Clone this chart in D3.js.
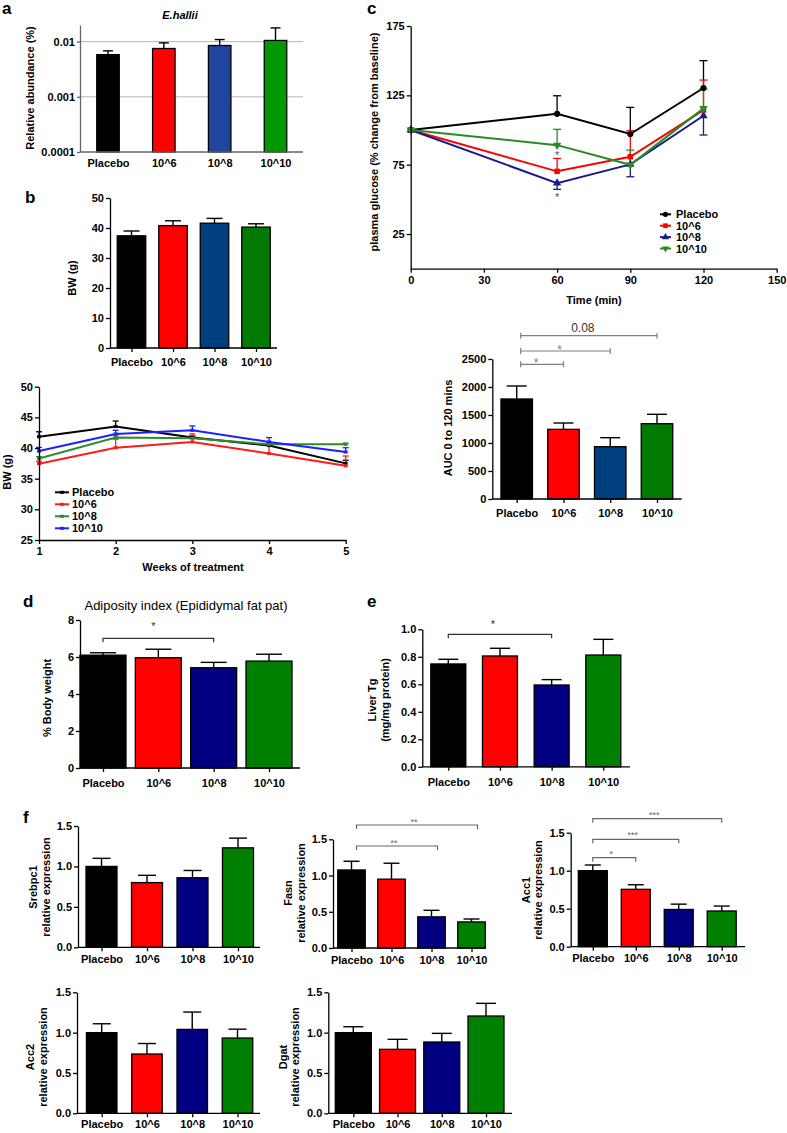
<!DOCTYPE html>
<html><head><meta charset="utf-8">
<script src="https://cdn.jsdelivr.net/npm/d3@7"></script>
<style>
body{margin:0;background:#fff}
svg{display:block;font-family:"Liberation Sans",Arial,Helvetica,sans-serif}
</style></head><body>
<svg id="fig" width="787" height="1133"></svg>
<script>
// ---------------- DATA ----------------
const categories = ["Placebo", "10^6", "10^8", "10^10"];

// a: E.hallii relative abundance (%)
const abundanceMean = [0.0058, 0.0075, 0.0085, 0.0105];
const abundanceSem  = [0.0010, 0.0020, 0.0024, 0.0072];
const abundanceTicks = [0.0001, 0.001, 0.01];

// b: body weight bars
const bwMean = [37.4, 40.8, 41.6, 40.3];
const bwSem  = [1.6, 1.6, 1.6, 1.1];
const bwTicks = [0, 10, 20, 30, 40, 50];

// b: body weight over weeks
const weeks = [1, 2, 3, 4, 5];
const weekSeriesNames = ["Placebo", "10^6", "10^8", "10^10"];
const bwWeekPlacebo = [41.85, 43.5, 41.7, 40.4, 37.5];
const bwWeek10e6    = [37.45, 40.05, 41.0, 39.1, 37.1];
const bwWeek10e8    = [38.3, 41.7, 41.6, 40.6, 40.6];
const bwWeek10e10   = [39.5, 42.3, 42.9, 41.0, 39.35];
const bwWeekSemPlacebo = [0.8, 0.9, 0.3, 0.5, 0.5];
const bwWeekSem10e6    = [0.4, 1.4, 1.3, 1.4, 1.6];
const bwWeekSem10e8    = [0.3, 0.4, 0.4, 0.3, 0.2];
const bwWeekSem10e10   = [0.6, 0.6, 0.7, 0.7, 0.7];
const bwWeekYTicks = [25, 30, 35, 40, 45, 50];

// c: glucose tolerance (% change from baseline)
const timeMin = [0, 60, 90, 120];
const gluPlacebo = [100, 111.7, 97.1, 130.3];
const glu10e6    = [100, 70.2, 80.7, 114.4];
const glu10e8    = [100, 61.7, 75.2, 110.3];
const glu10e10   = [100, 89.1, 74.9, 115.6];
const gluSemPlacebo = [0, 13.0, 19.2, 19.7];
const gluSem10e6    = [0, 9.3, 18.8, 21.6];
const gluSem10e8    = [0, 4.5, 8.9, 13.9];
const gluSem10e10   = [0, 11.4, 10.6, 14.0];
const gluErrDirection = [1, 1, -1, 1];
const gluYTicks = [25, 75, 125, 175];
const gluXTicks = [0, 30, 60, 90, 120, 150];
const gluStarLabels = ["*", "*"];

// c: AUC
const aucMean = [1786, 1244, 934, 1345];
const aucSem  = [232, 113, 161, 167];
const aucTicks = [0, 500, 1000, 1500, 2000, 2500];
const aucBrackets = [[0, 1, "*"], [0, 2, "*"], [0, 3, "0.08"]];

// d: adiposity index
const adipMean = [6.10, 5.96, 5.42, 5.78];
const adipSem  = [0.13, 0.46, 0.29, 0.37];
const adipTicks = [0, 2, 4, 6, 8];
const adipBrackets = [[0, 2, "*"]];

// e: liver Tg
const liverMean = [0.748, 0.806, 0.595, 0.813];
const liverSem  = [0.034, 0.056, 0.039, 0.114];
const liverTicks = [0, 0.2, 0.4, 0.6, 0.8, 1.0];
const liverBrackets = [[0, 2, "*"]];

// f: gene expression
const exprTicks = [0, 0.5, 1.0, 1.5];
const srebpMean = [1.00, 0.80, 0.86, 1.23];
const srebpSem  = [0.10, 0.09, 0.09, 0.12];
const fasnMean  = [1.077, 0.95, 0.43, 0.36];
const fasnSem   = [0.12, 0.22, 0.09, 0.04];
const fasnBrackets = [[0, 3, "**"], [0, 2, "**"]];
const acc1Mean  = [1.00, 0.755, 0.49, 0.47];
const acc1Sem   = [0.075, 0.06, 0.07, 0.065];
const acc1Brackets = [[0, 3, "***"], [0, 2, "***"], [0, 1, "*"]];
const acc2Mean  = [1.00, 0.735, 1.04, 0.933];
const acc2Sem   = [0.11, 0.13, 0.215, 0.11];
const dgatMean  = [1.00, 0.793, 0.884, 1.206];
const dgatSem   = [0.073, 0.124, 0.107, 0.157];

// ---------------- STYLE ----------------
const FONT = '"Liberation Sans", Arial, Helvetica, sans-serif';
const colA = ["#000000", "#ff0000", "#1f459c", "#009a00"];
const colB = ["#000000", "#ff0000", "#003f7f", "#007a00"];
const colD = ["#000000", "#ff0000", "#000080", "#008000"];
const colWeek = ["#000000", "#ff1a1a", "#2e8b2e", "#1f1fff"];
const colGlu = ["#000000", "#ff0000", "#1a1a8c", "#2a8a2a"];

const svg = d3.select("#fig");

function styleAxis(g, color = "#000", size = 11) {
  g.selectAll("text").attr("font-size", size).attr("font-weight", "bold")
    .attr("fill", "#000").attr("font-family", FONT);
  g.selectAll("line,path").attr("stroke", color).attr("stroke-width", 1.3);
}

function txt(x, y, s, opt = {}) {
  return svg.append("text").attr("x", x).attr("y", y).text(s)
    .attr("font-family", FONT)
    .attr("font-size", opt.size || 11)
    .attr("font-weight", opt.weight || "bold")
    .attr("font-style", opt.style || "normal")
    .attr("fill", opt.fill || "#000")
    .attr("text-anchor", opt.anchor || "start");
}

function yTitle(x, cy, s, size = 11) {
  svg.append("text").attr("transform", `translate(${x},${cy}) rotate(-90)`)
    .attr("text-anchor", "middle").attr("dominant-baseline", "central")
    .attr("font-family", FONT).attr("font-size", size).attr("font-weight", "bold")
    .text(s);
}

function barPanel(o) {
  const x = d3.scalePoint().domain(categories).range(o.centers);
  const y = (o.log ? d3.scaleLog() : d3.scaleLinear()).domain(o.domain).range([o.yBottom, o.yTop]);
  const g = svg.append("g");
  const axisColor = o.axisColor || "#000";
  if (o.grid) {
    o.grid.forEach(v => g.append("line").attr("x1", o.xAxis[0]).attr("x2", o.xAxis[1])
      .attr("y1", y(v)).attr("y2", y(v)).attr("stroke", "#b5b5b5").attr("stroke-width", 1));
  }
  const base = o.domain[0];
  o.values.forEach((v, i) => {
    const cx = x(categories[i]);
    const top = y(v + o.sems[i]);
    g.append("line").attr("x1", cx).attr("x2", cx).attr("y1", y(v)).attr("y2", top)
      .attr("stroke", "#000").attr("stroke-width", 1.4);
    g.append("line").attr("x1", cx - o.cap).attr("x2", cx + o.cap).attr("y1", top).attr("y2", top)
      .attr("stroke", "#000").attr("stroke-width", 1.4);
  });
  g.selectAll(null).data(o.values).join("rect")
    .attr("x", (d, i) => x(categories[i]) - o.bw / 2).attr("width", o.bw)
    .attr("y", d => y(d)).attr("height", d => y(base) - y(d))
    .attr("fill", (d, i) => o.colors[i]).attr("stroke", "#000").attr("stroke-width", 1.3);
  const ya = d3.axisLeft(y).tickValues(o.ticks).tickFormat(o.fmt || (d => d))
    .tickSize(o.yTick === undefined ? 4 : o.yTick).tickPadding(o.yPad || 2).tickSizeOuter(0);
  const yg = g.append("g").attr("transform", `translate(${o.xAxis[0]},0)`).call(ya);
  styleAxis(yg, axisColor);
  g.append("line").attr("x1", o.xAxis[0]).attr("x2", o.xAxis[1])
    .attr("y1", o.yBottom).attr("y2", o.yBottom).attr("stroke", axisColor).attr("stroke-width", 1.3);
  const xa = d3.axisBottom(x).tickSize(o.xTick === undefined ? 4 : o.xTick).tickPadding(o.xPad || 3).tickSizeOuter(0);
  const xg = g.append("g").attr("transform", `translate(0,${o.yBottom})`).call(xa);
  xg.select(".domain").remove();
  styleAxis(xg, axisColor);
  (o.yLabel || []).forEach(l => yTitle(l.x, o.yLabelCY, l.t));
  (o.brackets || []).forEach((b, k) => {
    const lv = o.bracketLevels[k];
    const x1 = x(categories[b[0]]) + (o.bracketDx ? o.bracketDx[0] : 0);
    const x2 = x(categories[b[1]]) + (o.bracketDx ? o.bracketDx[1] : 0);
    const col = o.bracketColor || "#444";
    if (o.bracketStyle === "H") {
      g.append("line").attr("x1", x1).attr("x2", x2).attr("y1", lv).attr("y2", lv).attr("stroke", col).attr("stroke-width", 1.2);
      [x1, x2].forEach(xx => g.append("line").attr("x1", xx).attr("x2", xx).attr("y1", lv - 3).attr("y2", lv + 3).attr("stroke", col).attr("stroke-width", 1.2));
    } else {
      g.append("path").attr("d", `M${x1},${lv + 4}V${lv}H${x2}V${lv + 4}`)
        .attr("fill", "none").attr("stroke", col).attr("stroke-width", 1.2);
    }
    const isNum = /[0-9]/.test(b[2]);
    txt((x1 + x2) / 2 + (o.starDx || 0), lv + (isNum ? -4 : o.starDy), b[2],
      { anchor: "middle", weight: "normal", size: isNum ? 12 : o.starSize, fill: isNum ? "#333" : col });
  });
  return { x, y };
}

// ---------------- PANEL LETTERS ----------------
[["a", 2, 14], ["c", 367, 14], ["b", 25, 203], ["d", 23, 607], ["e", 367, 607], ["f", 23, 823]]
  .forEach(p => txt(p[1], p[2], p[0], { size: 17 }));

// ---------------- a ----------------
txt(180, 19, "E.hallii", { anchor: "middle", style: "italic" });
barPanel({
  log: true, domain: [0.0001, 0.02], yBottom: 152, yTop: 25,
  xAxis: [80, 303], centers: [108, 275.5], bw: 22.5, cap: 5,
  values: abundanceMean, sems: abundanceSem, colors: colA,
  ticks: abundanceTicks, fmt: d => String(d), grid: [0.01, 0.001],
  axisColor: "#666", xTick: 0, xPad: 7, yTick: 3,
  yLabel: [{ x: 30, t: "Relative abundance (%)" }], yLabelCY: 88
});

// ---------------- b (bars) ----------------
barPanel({
  domain: [0, 50], yBottom: 348, yTop: 198,
  xAxis: [110, 277], centers: [131.5, 256], bw: 28.5, cap: 8,
  values: bwMean, sems: bwSem, colors: colB,
  ticks: bwTicks, xPad: 6,
  yLabel: [{ x: 72, t: "BW (g)" }], yLabelCY: 278
});

// ---------------- b (lines) ----------------
(function () {
  const x = d3.scaleLinear().domain([1, 5]).range([39, 345.7]);
  const y = d3.scaleLinear().domain([25, 50]).range([540, 386.7]);
  const series = [bwWeekPlacebo, bwWeek10e6, bwWeek10e8, bwWeek10e10];
  const sems = [bwWeekSemPlacebo, bwWeekSem10e6, bwWeekSem10e8, bwWeekSem10e10];
  const g = svg.append("g");
  const line = d3.line().x((d, i) => x(weeks[i])).y(d => y(d));
  series.forEach((s, k) => {
    s.forEach((v, i) => {
      const cx = x(weeks[i]), t = y(v + sems[k][i]);
      g.append("line").attr("x1", cx).attr("x2", cx).attr("y1", y(v)).attr("y2", t).attr("stroke", colWeek[k]).attr("stroke-width", 1.3);
      g.append("line").attr("x1", cx - 3).attr("x2", cx + 3).attr("y1", t).attr("y2", t).attr("stroke", colWeek[k]).attr("stroke-width", 1.3);
    });
  });
  series.forEach((s, k) => {
    g.append("path").datum(s).attr("d", line).attr("fill", "none").attr("stroke", colWeek[k]).attr("stroke-width", 2);
    g.selectAll(null).data(s).join("rect").attr("x", (d, i) => x(weeks[i]) - 2).attr("y", d => y(d) - 1.5)
      .attr("width", 4).attr("height", 3).attr("fill", colWeek[k]);
  });
  const ya = d3.axisLeft(y).tickValues(bwWeekYTicks).tickSize(4).tickPadding(2).tickSizeOuter(0);
  styleAxis(g.append("g").attr("transform", "translate(39,0)").call(ya));
  const xa = d3.axisBottom(x).tickValues(weeks).tickFormat(d3.format("d")).tickSize(4).tickPadding(3).tickSizeOuter(0);
  styleAxis(g.append("g").attr("transform", "translate(0,540)").call(xa));
  yTitle(7, 472, "BW (g)");
  txt(193, 571, "Weeks of treatment", { anchor: "middle" });
  weekSeriesNames.forEach((n, k) => {
    const ly = 492.3 + k * 12;
    g.append("line").attr("x1", 55).attr("x2", 69).attr("y1", ly).attr("y2", ly).attr("stroke", colWeek[k]).attr("stroke-width", 2);
    g.append("rect").attr("x", 60).attr("y", ly - 1.5).attr("width", 4).attr("height", 3).attr("fill", colWeek[k]);
    txt(72, ly + 4, n);
  });
})();

// ---------------- c (lines) ----------------
(function () {
  const x = d3.scaleLinear().domain([0, 150]).range([410.7, 776.7]);
  const y = d3.scaleLinear().domain([0, 175]).range([268.7, 26]);
  const series = [gluPlacebo, glu10e6, glu10e8, glu10e10];
  const sems = [gluSemPlacebo, gluSem10e6, gluSem10e8, gluSem10e10];
  const shapes = [d3.symbolCircle, d3.symbolSquare, d3.symbolTriangle, d3.symbolTriangle];
  const rot = [0, 0, 0, 180];
  const g = svg.append("g");
  const line = d3.line().x((d, i) => x(timeMin[i])).y(d => y(d));
  series.forEach((s, k) => {
    s.forEach((v, i) => {
      if (!sems[k][i]) return;
      const cx = x(timeMin[i]), t = y(v + gluErrDirection[k] * sems[k][i]);
      g.append("line").attr("x1", cx).attr("x2", cx).attr("y1", y(v)).attr("y2", t).attr("stroke", colGlu[k]).attr("stroke-width", 1.3);
      g.append("line").attr("x1", cx - 4).attr("x2", cx + 4).attr("y1", t).attr("y2", t).attr("stroke", colGlu[k]).attr("stroke-width", 1.3);
    });
  });
  series.forEach((s, k) => {
    g.append("path").datum(s).attr("d", line).attr("fill", "none").attr("stroke", colGlu[k]).attr("stroke-width", 2);
    g.selectAll(null).data(s).join("path")
      .attr("transform", (d, i) => `translate(${x(timeMin[i])},${y(d)}) rotate(${rot[k]})`)
      .attr("d", d3.symbol().type(shapes[k]).size(30)).attr("fill", colGlu[k]);
  });
  const ya = d3.axisLeft(y).tickValues(gluYTicks).tickSize(4).tickPadding(2).tickSizeOuter(0);
  styleAxis(g.append("g").attr("transform", "translate(410.7,0)").call(ya));
  const xa = d3.axisBottom(x).tickValues(gluXTicks).tickSize(4).tickPadding(4).tickSizeOuter(0);
  styleAxis(g.append("g").attr("transform", "translate(0,268.7)").call(xa));
  yTitle(374, 142, "plasma glucose (% change from baseline)");
  txt(594, 304, "Time (min)", { anchor: "middle" });
  txt(x(60), 159, gluStarLabels[0], { anchor: "middle", weight: "normal", fill: "#555" });
  txt(x(60), 201, gluStarLabels[1], { anchor: "middle", weight: "normal", fill: "#555" });
  categories.forEach((n, k) => {
    const ly = 214.3 + k * 11.4;
    g.append("line").attr("x1", 660).attr("x2", 671).attr("y1", ly).attr("y2", ly).attr("stroke", colGlu[k]).attr("stroke-width", 2);
    g.append("path").attr("transform", `translate(665.5,${ly}) rotate(${rot[k]})`)
      .attr("d", d3.symbol().type(shapes[k]).size(22)).attr("fill", colGlu[k]);
    txt(676, ly + 4, n);
  });
})();

// ---------------- c (AUC) ----------------
barPanel({
  domain: [0, 2500], yBottom: 499, yTop: 359,
  xAxis: [492.3, 681.7], centers: [516.7, 657], bw: 31.5, cap: 10,
  values: aucMean, sems: aucSem, colors: colB,
  ticks: aucTicks, xPad: 6,
  yLabel: [{ x: 448, t: "AUC 0 to 120 mins" }], yLabelCY: 428,
  brackets: aucBrackets, bracketLevels: [364.3, 351, 335.7], bracketStyle: "H",
  bracketColor: "#808080", bracketDx: [4, 0], starSize: 12, starDy: 3, starDx: -6
});

// ---------------- d ----------------
txt(186, 610, "Adiposity index (Epididymal fat pat)", { anchor: "middle", weight: "normal", size: 13 });
barPanel({
  domain: [0, 8], yBottom: 768, yTop: 620,
  xAxis: [80, 300], centers: [103, 269], bw: 46, cap: 13,
  values: adipMean, sems: adipSem, colors: colD,
  ticks: adipTicks, xPad: 7,
  yLabel: [{ x: 47, t: "% Body weight" }], yLabelCY: 698,
  brackets: adipBrackets, bracketLevels: [638.3], bracketColor: "#333", starSize: 11, starDy: -8, starDx: -5
});

// ---------------- e ----------------
barPanel({
  domain: [0, 1], yBottom: 766.8, yTop: 629.3,
  xAxis: [422.3, 630], centers: [448.3, 603.3], bw: 35, cap: 10,
  values: liverMean, sems: liverSem, colors: colD,
  ticks: liverTicks, fmt: d3.format(".1f"), xPad: 7,
  yLabel: [{ x: 372, t: "Liver Tg" }, { x: 385, t: "(mg/mg protein)" }], yLabelCY: 700,
  brackets: liverBrackets, bracketLevels: [634.3], bracketColor: "#333", starSize: 11, starDy: -6, starDx: -7
});

// ---------------- f ----------------
const f1 = d3.format(".1f");
barPanel({
  domain: [0, 1.5], yBottom: 947.3, yTop: 826,
  xAxis: [78, 260], centers: [101.5, 238], bw: 31, cap: 9,
  values: srebpMean, sems: srebpSem, colors: colD,
  ticks: exprTicks, fmt: f1, xPad: 4,
  yLabel: [{ x: 33, t: "Srebpc1" }, { x: 46, t: "relative expression" }], yLabelCY: 887
});
barPanel({
  domain: [0, 1.5], yBottom: 948, yTop: 839.3,
  xAxis: [333, 486], centers: [351.5, 471.5], bw: 27.5, cap: 8,
  values: fasnMean, sems: fasnSem, colors: colD,
  ticks: exprTicks, fmt: f1, xPad: 4,
  yLabel: [{ x: 288, t: "Fasn" }, { x: 301, t: "relative expression" }], yLabelCY: 893,
  brackets: fasnBrackets, bracketLevels: [825, 846], bracketColor: "#666", bracketDx: [5, 6],
  starSize: 9, starDy: 0, starDx: -3
});
barPanel({
  domain: [0, 1.5], yBottom: 946.7, yTop: 832.7,
  xAxis: [570.7, 745], centers: [592.8, 721.7], bw: 29, cap: 8,
  values: acc1Mean, sems: acc1Sem, colors: colD,
  ticks: exprTicks, fmt: f1, xPad: 4,
  yLabel: [{ x: 526, t: "Acc1" }, { x: 538, t: "relative expression" }], yLabelCY: 890,
  brackets: acc1Brackets, bracketLevels: [818.7, 839.3, 857.7], bracketColor: "#666",
  starSize: 9, starDy: -1, starDx: -3
});
barPanel({
  domain: [0, 1.5], yBottom: 1113.3, yTop: 992.3,
  xAxis: [77, 260], centers: [101.7, 237.5], bw: 30.5, cap: 9,
  values: acc2Mean, sems: acc2Sem, colors: colD,
  ticks: exprTicks, fmt: f1, xPad: 3,
  yLabel: [{ x: 30, t: "Acc2" }, { x: 43, t: "relative expression" }], yLabelCY: 1057
});
barPanel({
  domain: [0, 1.5], yBottom: 1113.3, yTop: 992.3,
  xAxis: [328.3, 512], centers: [353.3, 486], bw: 36, cap: 10,
  values: dgatMean, sems: dgatSem, colors: colD,
  ticks: exprTicks, fmt: f1, xPad: 3,
  yLabel: [{ x: 283, t: "Dgat" }, { x: 295, t: "relative expression" }], yLabelCY: 1057
});
</script></body></html>
